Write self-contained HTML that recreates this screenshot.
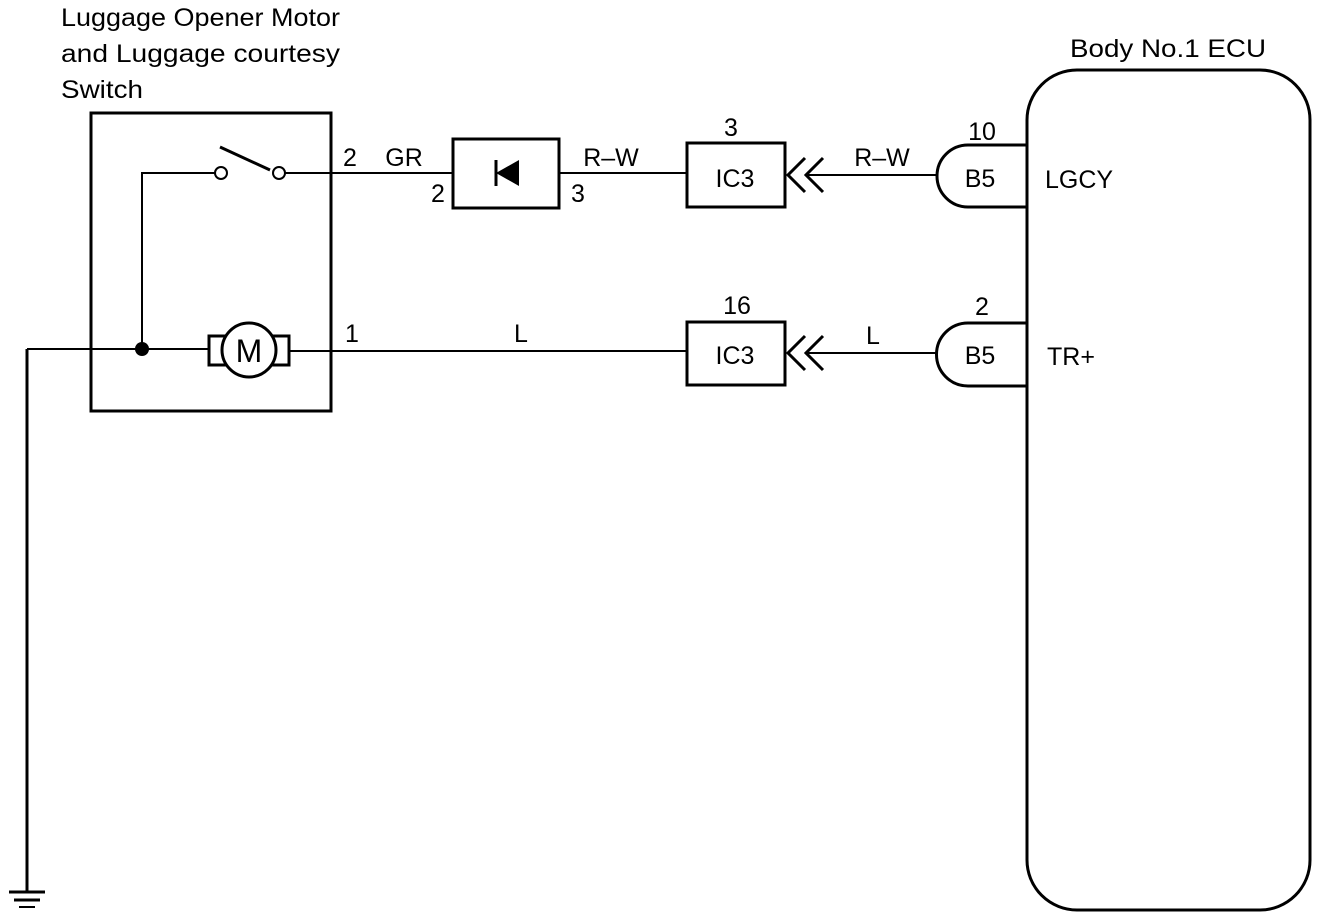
<!DOCTYPE html>
<html><head><style>
body{margin:0;background:#fff}
svg{display:block}
text{font-family:"Liberation Sans",sans-serif;font-size:25px;fill:#000}
</style></head><body>
<svg width="1328" height="920" viewBox="0 0 1328 920">
<g fill="none" stroke="#000" stroke-width="2">
<rect x="91" y="113" width="240" height="298" stroke-width="3"/>
<rect x="1027" y="70" width="283" height="840" rx="50" stroke-width="3"/>
<polyline points="215,173 142,173 142,349"/>
<circle cx="221" cy="173" r="6"/>
<circle cx="279" cy="173" r="6"/>
<line x1="220" y1="147" x2="270" y2="170" stroke-width="3"/>
<line x1="285" y1="173" x2="453" y2="173"/>
<line x1="559" y1="173" x2="687" y2="173"/>
<rect x="453" y="139" width="106" height="69" stroke-width="3"/>
<line x1="27" y1="349" x2="209" y2="349"/>
<rect x="209" y="336" width="80" height="29" stroke-width="3"/>
<circle cx="249" cy="350" r="27" fill="#fff" stroke-width="3"/>
<line x1="289" y1="351" x2="687" y2="351"/>
<line x1="27" y1="349" x2="27" y2="891" stroke-width="3"/>
<line x1="9" y1="892" x2="45" y2="892" stroke-width="3"/>
<line x1="14" y1="900" x2="40" y2="900" stroke-width="3"/>
<line x1="19" y1="907" x2="35" y2="907" stroke-width="2"/>
<rect x="687" y="143" width="98" height="64" stroke-width="3"/>
<rect x="687" y="322" width="98" height="63" stroke-width="3"/>
<polyline points="805,158 788,175 805,192" stroke-width="3"/>
<polyline points="823,158 806,175 823,192" stroke-width="3"/>
<polyline points="805,336 788,353 805,370" stroke-width="3"/>
<polyline points="823,336 806,353 823,370" stroke-width="3"/>
<line x1="806" y1="175" x2="937" y2="175"/>
<line x1="806" y1="353" x2="937" y2="353"/>
<path d="M1027,145 H968 A31,31 0 0 0 968,207 H1027" stroke-width="3"/>
<path d="M1027,323 H968 A31,31 0 0 0 968,386 H1027" stroke-width="3"/>
</g>
<circle cx="142" cy="349" r="7" fill="#000"/>
<polygon points="496,173 519,160 519,186" fill="#000"/>
<line x1="496" y1="160" x2="496" y2="186" stroke="#000" stroke-width="3"/>
<text x="61" y="26" textLength="279" lengthAdjust="spacingAndGlyphs">Luggage Opener Motor</text>
<text x="61" y="62" textLength="279" lengthAdjust="spacingAndGlyphs">and Luggage courtesy</text>
<text x="61" y="98" textLength="82" lengthAdjust="spacingAndGlyphs">Switch</text>
<text x="1070" y="57" textLength="196" lengthAdjust="spacingAndGlyphs">Body No.1 ECU</text>
<g text-anchor="middle">
<text x="350" y="166">2</text>
<text x="404" y="166">GR</text>
<text x="438" y="202">2</text>
<text x="578" y="202">3</text>
<text x="611" y="166">R–W</text>
<text x="352" y="342">1</text>
<text x="521" y="342">L</text>
<text x="731" y="136">3</text>
<text x="735" y="187">IC3</text>
<text x="737" y="314">16</text>
<text x="735" y="364">IC3</text>
<text x="882" y="166">R–W</text>
<text x="873" y="344">L</text>
<text x="982" y="140">10</text>
<text x="980" y="187">B5</text>
<text x="982" y="315">2</text>
<text x="980" y="364">B5</text>
<text x="249" y="362" style="font-size:32px">M</text>
</g>
<text x="1045" y="188">LGCY</text>
<text x="1047" y="365">TR+</text>
</svg>
</body></html>
